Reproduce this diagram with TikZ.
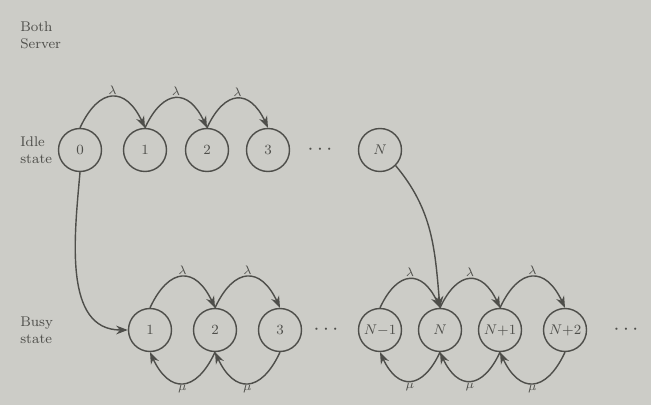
\documentclass[tikz,border=0pt]{standalone}
\usetikzlibrary{arrows.meta,positioning}
\definecolor{paper}{RGB}{204,204,199}
\definecolor{ink}{RGB}{78,78,74}
\begin{document}
\begin{tikzpicture}[x=0.02cm,y=0.02cm,
  stnode/.style={circle,draw=ink,thick,minimum size=0.86cm,inner sep=0pt,text=ink,font=\footnotesize},
  arc/.style={draw=ink,thick,-Stealth,looseness=1.8},
  lbl/.style={text=ink,font=\scriptsize,inner sep=1pt},
  side/.style={text=ink,font=\footnotesize,align=left,anchor=west,inner sep=0pt},
  dotsnode/.style={text=ink,font=\large}]
 \fill[paper] (0,0) rectangle (651,405);
 % side labels
 \node[side] (srv) at (20,370) {Both\\Server};
 \node[side] (idle) at (20,255) {Idle\\state};
 \node[side] (busy) at (20,75) {Busy\\state};
 % idle row
 \node[stnode] (t0) at (80,255) {$0$};
 \node[stnode] (t1) at (145,255) {$1$};
 \node[stnode] (t2) at (207,255) {$2$};
 \node[stnode] (t3) at (268,255) {$3$};
 \node[dotsnode] (tdots) at (320,255) {$\cdots$};
 \node[stnode] (tN) at (380,255) {$N$};
 % busy row
 \node[stnode] (b1) at (150,75) {$1$};
 \node[stnode] (b2) at (215,75) {$2$};
 \node[stnode] (b3) at (280,75) {$3$};
 \node[dotsnode] (bdots) at (326,75) {$\cdots$};
 \node[stnode] (bN1) at (380,75) {$N{-}1$};
 \node[stnode] (bN) at (440,75) {$N$};
 \node[stnode] (bN2) at (500,75) {$N{+}1$};
 \node[stnode] (bN3) at (565,75) {$N{+}2$};
 \node[dotsnode] (bdots2) at (626,75) {$\cdots$};
 % arrivals
 \foreach \a/\b in {t0/t1,t1/t2,t2/t3,b1/b2,b2/b3,bN1/bN,bN/bN2,bN2/bN3}
  \draw[arc] (\a.north) to[out=65,in=115] node[lbl,above]{$\lambda$} (\b.north);
 % services
 \foreach \a/\b in {b2/b1,b3/b2,bN/bN1,bN2/bN,bN3/bN2}
  \draw[arc] (\a.south) to[out=-115,in=-65] node[lbl,below]{$\mu$} (\b.south);
 % between the rows
 \draw[arc,looseness=1] (t0.south) to[out=-95,in=180] (b1.west);
 \draw[arc,looseness=1] (tN.south east) to[out=-50,in=95] (bN.north);
\end{tikzpicture}
\end{document}
